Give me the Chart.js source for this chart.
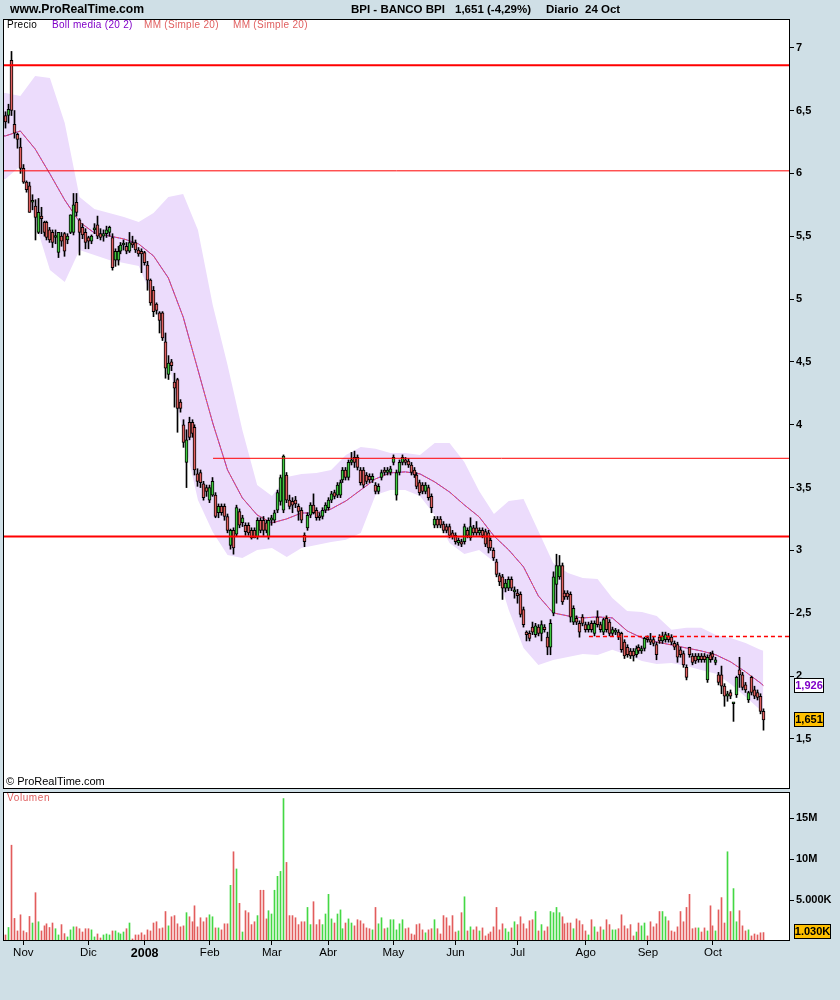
<!DOCTYPE html>
<html>
<head>
<meta charset="utf-8">
<title>BPI - BANCO BPI</title>
<script src="https://cdn.jsdelivr.net/npm/chart.js@4.4.1/dist/chart.umd.min.js"></script>
<style>
  html, body { margin: 0; padding: 0; }
  body { width: 840px; height: 1000px; background: #cfdfe6; position: relative; overflow: hidden;
         font-family: "Liberation Sans", Arial, sans-serif; }
  canvas { position: absolute; left: 0; }
  #mainChart { top: 0; }
  #volChart { top: 790px; }
  .txt { position: absolute; white-space: nowrap; line-height: 1; }
  .b { font-weight: bold; }
</style>
</head>
<body>
<canvas id="mainChart" width="840" height="790"></canvas>
<canvas id="volChart" width="840" height="210"></canvas>

<div class="txt b" style="left:10px;top:3px;font-size:12.2px;">www.ProRealTime.com</div>
<div class="txt b" style="left:351px;top:4px;font-size:11.5px;">BPI - BANCO BPI</div>
<div class="txt b" style="left:455px;top:4px;font-size:11.5px;">1,651 (-4,29%)</div>
<div class="txt b" style="left:546px;top:4px;font-size:11.5px;">Diario&nbsp; 24 Oct</div>

<div class="txt" style="left:7px;top:20px;font-size:10px;letter-spacing:0.3px;color:#000;">Precio</div>
<div class="txt" style="left:52px;top:20px;font-size:10px;letter-spacing:0.3px;color:#8000c8;">Boll media (20 2)</div>
<div class="txt" style="left:144px;top:20px;font-size:10px;letter-spacing:0.3px;color:#e06060;">MM (Simple 20)</div>
<div class="txt" style="left:233px;top:20px;font-size:10px;letter-spacing:0.3px;color:#e06060;">MM (Simple 20)</div>
<div class="txt" style="left:6px;top:776px;font-size:11px;">&copy; ProRealTime.com</div>
<div class="txt" style="left:7px;top:793px;font-size:10px;letter-spacing:0.6px;color:#e06060;">Volumen</div>

<script>
// daily candles, 24 Oct 2007 .. 24 Oct 2008 (index = trading day)
const opens = [
  6.46,6.46,6.90,6.39,6.31,6.21,6.04,5.93,5.90,5.77,
  5.74,5.53,5.66,5.61,5.61,5.55,5.53,5.49,5.37,5.50,
  5.52,5.47,5.53,5.53,5.77,5.63,5.57,5.53,5.49,5.46,
  5.55,5.59,5.52,5.50,5.52,5.53,5.49,5.31,5.31,5.38,
  5.43,5.42,5.38,5.45,5.45,5.39,5.38,5.37,5.27,5.15,
  5.07,4.96,4.89,4.89,4.66,4.40,4.50,4.34,4.36,4.18,
  4.00,3.70,4.02,4.02,3.98,3.61,3.62,3.53,3.50,3.40,
  3.44,3.44,3.30,3.35,3.35,3.27,3.04,3.16,3.13,3.31,
  3.22,3.20,3.20,3.16,3.16,3.11,3.24,3.24,3.22,3.11,
  3.24,3.24,3.32,3.39,3.32,3.60,3.40,3.39,3.40,3.35,
  3.32,3.12,3.18,3.28,3.36,3.32,3.27,3.27,3.32,3.34,
  3.40,3.46,3.44,3.44,3.56,3.64,3.58,3.70,3.74,3.74,
  3.64,3.64,3.60,3.59,3.56,3.52,3.47,3.58,3.64,3.62,
  3.62,3.70,3.44,3.62,3.70,3.72,3.71,3.68,3.64,3.60,
  3.54,3.52,3.47,3.50,3.43,3.20,3.25,3.25,3.21,3.19,
  3.19,3.14,3.12,3.06,3.07,3.07,3.16,3.10,3.18,3.18,
  3.14,3.16,3.15,3.14,3.08,3.00,2.91,2.80,2.79,2.70,
  2.70,2.77,2.67,2.66,2.65,2.53,2.35,2.34,2.39,2.33,
  2.39,2.34,2.39,2.31,2.23,2.50,2.73,2.79,2.88,2.66,
  2.66,2.65,2.43,2.46,2.42,2.47,2.41,2.37,2.42,2.34,
  2.47,2.41,2.35,2.46,2.43,2.34,2.35,2.35,2.34,2.27,
  2.23,2.20,2.20,2.17,2.23,2.20,2.22,2.30,2.29,2.29,
  2.25,2.31,2.28,2.29,2.32,2.31,2.26,2.25,2.21,2.18,
  2.07,2.23,2.16,2.16,2.13,2.16,2.16,1.97,2.17,2.18,
  2.11,2.01,2.01,1.92,1.84,1.87,1.78,1.85,2.05,2.01,
  1.93,1.81,1.99,1.89,1.87,1.84,1.72
];
const highs = [
  6.49,6.55,6.97,6.50,6.32,6.28,6.07,5.94,5.93,5.83,
  5.79,5.80,5.73,5.62,5.62,5.57,5.55,5.55,5.53,5.53,
  5.53,5.52,5.67,5.84,5.84,5.64,5.60,5.56,5.50,5.51,
  5.60,5.66,5.56,5.55,5.58,5.58,5.52,5.40,5.42,5.45,
  5.47,5.45,5.53,5.50,5.47,5.41,5.40,5.38,5.30,5.16,
  5.10,4.97,4.90,4.90,4.73,4.55,4.52,4.41,4.37,4.20,
  4.04,3.96,4.06,4.04,4.00,3.65,3.64,3.55,3.52,3.52,
  3.58,3.46,3.37,3.37,3.37,3.29,3.17,3.18,3.36,3.33,
  3.28,3.22,3.22,3.18,3.18,3.26,3.26,3.27,3.24,3.26,
  3.28,3.32,3.48,3.60,3.76,3.62,3.44,3.42,3.43,3.37,
  3.34,3.14,3.30,3.38,3.45,3.34,3.30,3.34,3.38,3.42,
  3.47,3.48,3.54,3.56,3.66,3.66,3.72,3.78,3.79,3.76,
  3.66,3.66,3.62,3.61,3.61,3.54,3.53,3.64,3.66,3.66,
  3.67,3.76,3.64,3.72,3.76,3.74,3.73,3.70,3.66,3.62,
  3.56,3.54,3.54,3.52,3.45,3.27,3.27,3.27,3.23,3.21,
  3.21,3.16,3.14,3.10,3.09,3.21,3.18,3.26,3.20,3.23,
  3.18,3.18,3.17,3.16,3.10,3.02,2.93,2.82,2.81,2.77,
  2.79,2.79,2.71,2.69,2.67,2.55,2.36,2.36,2.43,2.42,
  2.41,2.44,2.41,2.35,2.45,2.83,2.97,2.96,2.90,2.68,
  2.68,2.67,2.56,2.48,2.44,2.49,2.43,2.43,2.44,2.44,
  2.52,2.43,2.46,2.48,2.45,2.39,2.38,2.37,2.35,2.29,
  2.25,2.22,2.22,2.24,2.25,2.24,2.31,2.32,2.34,2.31,
  2.27,2.33,2.35,2.35,2.34,2.33,2.28,2.27,2.23,2.20,
  2.09,2.23,2.18,2.18,2.18,2.18,2.18,2.17,2.19,2.20,
  2.15,2.03,2.08,1.94,1.88,1.89,1.79,2.00,2.15,2.03,
  1.95,1.88,2.00,1.92,1.89,1.86,1.74
];
const lows = [
  6.36,6.40,6.46,6.28,6.20,6.00,5.92,5.85,5.69,5.71,
  5.47,5.52,5.52,5.50,5.47,5.45,5.41,5.44,5.33,5.42,
  5.34,5.44,5.52,5.51,5.66,5.35,5.48,5.40,5.40,5.44,
  5.52,5.48,5.47,5.46,5.49,5.50,5.23,5.26,5.27,5.36,
  5.39,5.36,5.37,5.41,5.37,5.34,5.21,5.27,5.07,4.95,
  4.86,4.88,4.73,4.67,4.37,4.36,4.43,4.14,3.94,4.10,
  3.82,3.50,3.88,3.90,3.60,3.51,3.50,3.40,3.43,3.38,
  3.43,3.26,3.26,3.28,3.24,3.14,3.01,2.97,3.11,3.18,
  3.19,3.12,3.12,3.09,3.10,3.09,3.14,3.12,3.14,3.09,
  3.20,3.22,3.30,3.36,3.30,3.38,3.33,3.30,3.34,3.24,
  3.22,3.03,3.16,3.26,3.29,3.24,3.24,3.25,3.30,3.32,
  3.38,3.41,3.42,3.42,3.54,3.56,3.56,3.68,3.66,3.64,
  3.52,3.50,3.53,3.54,3.54,3.45,3.45,3.56,3.60,3.60,
  3.60,3.68,3.40,3.60,3.68,3.68,3.66,3.60,3.58,3.49,
  3.44,3.45,3.45,3.40,3.30,3.18,3.18,3.18,3.14,3.14,
  3.10,3.09,3.05,3.04,3.03,3.05,3.10,3.08,3.12,3.12,
  3.12,3.10,3.03,2.98,3.00,2.92,2.79,2.72,2.61,2.67,
  2.68,2.68,2.62,2.58,2.47,2.39,2.28,2.28,2.33,2.31,
  2.32,2.28,2.35,2.17,2.17,2.48,2.58,2.77,2.57,2.61,
  2.61,2.43,2.41,2.41,2.31,2.40,2.35,2.35,2.35,2.32,
  2.39,2.35,2.33,2.35,2.32,2.32,2.33,2.29,2.19,2.14,
  2.15,2.14,2.12,2.15,2.18,2.18,2.20,2.27,2.25,2.24,
  2.13,2.26,2.26,2.27,2.27,2.25,2.21,2.11,2.15,2.07,
  1.97,2.15,2.09,2.10,2.11,2.11,2.11,1.95,2.11,2.13,
  2.09,1.93,1.86,1.76,1.80,1.82,1.64,1.83,1.91,1.89,
  1.87,1.79,1.85,1.82,1.81,1.70,1.57
];
const closes = [
  6.41,6.51,6.50,6.32,6.27,6.04,5.93,5.87,5.69,5.77,
  5.65,5.69,5.64,5.53,5.49,5.47,5.45,5.50,5.53,5.46,
  5.38,5.50,5.67,5.75,5.69,5.53,5.51,5.45,5.46,5.50,
  5.55,5.50,5.49,5.52,5.55,5.57,5.25,5.38,5.38,5.43,
  5.43,5.38,5.45,5.43,5.39,5.36,5.36,5.29,5.15,4.97,
  4.90,4.91,4.83,4.69,4.45,4.49,4.47,4.29,4.13,4.13,
  3.86,3.88,3.90,3.93,3.64,3.55,3.54,3.42,3.47,3.50,
  3.55,3.27,3.35,3.30,3.27,3.16,3.16,3.02,3.34,3.20,
  3.26,3.15,3.14,3.10,3.10,3.24,3.16,3.16,3.16,3.24,
  3.26,3.30,3.46,3.58,3.75,3.40,3.35,3.36,3.37,3.31,
  3.24,3.07,3.28,3.36,3.30,3.26,3.26,3.32,3.36,3.40,
  3.45,3.43,3.52,3.54,3.64,3.58,3.70,3.72,3.70,3.66,
  3.54,3.52,3.55,3.56,3.59,3.47,3.51,3.62,3.62,3.64,
  3.65,3.74,3.62,3.70,3.74,3.70,3.68,3.62,3.60,3.51,
  3.46,3.47,3.52,3.42,3.34,3.25,3.20,3.20,3.16,3.16,
  3.12,3.11,3.07,3.08,3.05,3.19,3.12,3.19,3.14,3.14,
  3.16,3.12,3.05,3.02,3.02,2.94,2.81,2.75,2.70,2.74,
  2.77,2.70,2.67,2.64,2.49,2.41,2.33,2.30,2.35,2.40,
  2.34,2.41,2.37,2.23,2.42,2.79,2.88,2.88,2.59,2.63,
  2.63,2.47,2.54,2.43,2.35,2.42,2.37,2.41,2.37,2.42,
  2.41,2.37,2.45,2.37,2.34,2.37,2.36,2.31,2.21,2.16,
  2.17,2.16,2.16,2.22,2.20,2.22,2.30,2.29,2.27,2.26,
  2.17,2.28,2.32,2.33,2.29,2.27,2.23,2.15,2.17,2.09,
  1.99,2.17,2.11,2.12,2.16,2.13,2.13,2.15,2.13,2.15,
  2.13,1.95,1.92,1.84,1.86,1.84,1.78,1.99,2.01,1.91,
  1.89,1.87,1.87,1.84,1.83,1.72,1.651
];
// volume in millions of shares
const volumes = [
  0.74,1.65,11.7,2.76,1.23,3.2,1.23,1.03,3.0,2.2,
  5.9,2.35,1.23,1.85,2.1,1.65,2.2,1.5,0.74,2.0,
  0.9,0.5,1.36,1.73,1.73,1.5,1.1,1.5,1.5,1.36,
  0.5,0.86,0.37,0.74,0.86,0.74,1.23,1.23,1.0,0.86,
  1.1,1.5,2.2,0.25,0.74,0.74,1.0,0.74,1.36,1.23,
  2.2,2.35,1.5,1.6,3.6,1.85,2.96,3.1,2.1,1.73,
  1.85,3.46,2.96,2.35,4.3,1.73,2.84,2.35,2.84,3.2,
  2.96,1.6,1.6,1.36,2.1,2.1,6.8,10.9,8.8,4.6,
  1.1,3.7,3.46,2.0,2.35,3.1,6.2,6.2,2.7,3.7,
  3.3,6.2,7.9,8.5,17.4,9.6,3.1,3.1,2.84,2.0,
  2.35,2.35,4.1,2.0,4.8,2.0,2.6,2.0,3.3,5.7,
  2.7,2.2,3.3,3.8,1.5,2.2,2.7,2.2,1.85,2.6,
  2.47,2.1,1.6,1.5,1.36,4.1,2.1,2.84,1.5,1.6,
  2.6,2.6,1.36,2.1,2.6,1.5,1.6,0.86,0.74,2.0,
  2.1,1.36,1.0,1.36,1.5,2.6,1.5,0.86,3.1,2.84,
  1.85,3.1,1.1,1.23,3.46,5.4,1.23,1.73,1.36,1.73,
  1.23,1.6,0.62,0.86,1.1,1.73,4.1,1.36,2.1,1.5,
  1.1,1.6,2.35,2.0,2.96,2.1,1.5,2.47,2.6,3.6,
  1.23,2.0,1.23,1.73,3.6,3.46,4.1,3.46,2.96,2.1,
  2.2,2.2,1.5,2.7,2.47,2.0,1.23,0.74,2.6,1.73,
  1.1,1.73,1.36,2.6,2.0,1.36,1.36,1.5,3.2,1.85,
  1.5,2.0,0.62,1.1,2.2,1.85,2.2,0.62,2.35,1.73,
  2.1,3.6,3.6,2.96,2.47,1.23,1.1,1.73,3.6,2.35,
  4.1,5.7,1.5,1.6,1.6,1.1,1.6,1.23,4.3,1.85,
  1.23,3.8,5.3,2.2,10.9,3.6,6.4,2.35,3.7,1.85,
  1.23,1.36,0.62,0.86,0.74,1.0,1.03
];

// Bollinger (20,2) band and 20-day average, sampled every 5 sessions
const bandIdx = [-1,0,5,10,15,20,25,30,35,40,45,50,55,60,65,70,75,80,85,90,95,100,105,110,115,120,125,
  130,135,140,145,150,155,160,165,170,175,180,185,190,195,200,205,210,215,220,225,230,235,240,245,250,255,256];
const bandUpper = [6.640,6.640,6.616,6.775,6.759,6.401,5.812,5.717,5.685,5.653,5.613,5.685,5.812,5.836,5.550,
  4.953,4.476,3.959,3.521,3.434,3.585,3.609,3.617,3.640,3.760,3.823,3.808,3.776,3.776,3.760,3.855,3.855,
  3.704,3.473,3.290,3.394,3.410,3.155,2.901,2.821,2.781,2.773,2.622,2.519,2.511,2.479,2.368,2.384,2.384,
  2.328,2.304,2.264,2.209,2.201];
const bandLower = [5.956,5.956,6.059,5.613,5.232,5.136,5.391,5.351,5.311,5.287,5.263,4.993,4.524,3.919,3.402,
  3.147,2.964,2.940,3.004,3.020,2.948,3.020,3.044,3.068,3.084,3.139,3.442,3.481,3.481,3.434,3.282,3.060,
  2.972,3.004,2.909,2.527,2.224,2.089,2.129,2.153,2.177,2.169,2.209,2.169,2.121,2.097,2.105,2.081,2.049,
  2.018,1.938,1.835,1.731,1.715];
const maValues = [6.298,6.298,6.337,6.194,5.995,5.788,5.613,5.526,5.502,5.478,5.438,5.343,5.168,4.858,4.436,
  4.014,3.640,3.418,3.282,3.219,3.251,3.298,3.298,3.330,3.394,3.481,3.569,3.617,3.625,3.609,3.545,3.465,
  3.362,3.267,3.115,3.004,2.869,2.638,2.503,2.479,2.463,2.471,2.463,2.360,2.304,2.272,2.248,2.224,2.201,
  2.169,2.113,2.034,1.946,1.926];

// drawn support / resistance levels
const levelValues = [6.86, 6.02, 3.733, 3.11, 2.316];
const levelStart  = [null, null, 70.1, null, 197.1];

const monthIdx    = [6, 28, 47, 69, 90, 109, 131, 152, 173, 196, 217, 239];
const monthLabels = ['Nov','Dic','2008','Feb','Mar','Abr','May','Jun','Jul','Ago','Sep','Oct'];
const priceTicks  = [1.5, 2, 2.5, 3, 3.5, 4, 4.5, 5, 5.5, 6, 6.5, 7];
const volTicks    = [5, 10, 15];

const X_MIN = -0.858, X_MAX = 265.02;
const UP = '#40c840', DOWN = '#e06060';
const VUP = '#44d844', VDOWN = '#e25c5c';
const FONT = '"Liberation Sans", Arial, sans-serif';

function comma(v) { return String(v).replace('.', ','); }
function volText(v) {
  if (v >= 10) return v + 'M';
  const k = Math.round(v * 1000);
  return Math.floor(k / 1000) + '.' + String(k % 1000).padStart(3, '0') + 'K';
}
function noPad(s) { s.paddingTop = 0; s.paddingBottom = 0; s.paddingLeft = 0; s.paddingRight = 0; }

const panelBox = {
  id: 'panelBox',
  beforeDraw(chart) {
    const a = chart.chartArea, c = chart.ctx;
    c.save();
    c.fillStyle = '#fff';
    c.fillRect(a.left, a.top, a.right - a.left, a.bottom - a.top);
    c.restore();
  },
  afterDraw(chart) {
    const a = chart.chartArea, c = chart.ctx;
    c.save();
    c.strokeStyle = '#000';
    c.lineWidth = 1;
    c.strokeRect(a.left + 0.5, a.top + 0.5, a.right - a.left - 1, a.bottom - a.top - 1);
    c.restore();
  }
};

// snap bars to whole pixels so the thin candles stay crisp
const snapBars = {
  id: 'snapBars',
  afterDatasetsUpdate(chart) {
    chart.getSortedVisibleDatasetMetas().forEach(function(meta) {
      if (meta.type !== 'bar') return;
      meta.data.forEach(function(el) { el.x = Math.floor(el.x) + 0.5; });
    });
  }
};

// short month tick marks under the volume panel
const monthMarks = {
  id: 'monthMarks',
  afterDraw(chart) {
    const x = chart.scales.x, a = chart.chartArea, c = chart.ctx;
    c.save();
    c.strokeStyle = '#000';
    c.lineWidth = 1;
    c.beginPath();
    monthIdx.forEach(function(v) {
      const px = Math.floor(x.getPixelForValue(v)) + 0.5;
      c.moveTo(px, a.bottom);
      c.lineTo(px, a.bottom + 4);
    });
    c.stroke();
    c.restore();
  }
};

function valueBox(c, x, y, text, fill, color, w) {
  const top = Math.round(y - 7.5);
  c.save();
  c.fillStyle = fill;
  c.fillRect(x, top, w, 15);
  c.strokeStyle = '#000';
  c.lineWidth = 1;
  c.strokeRect(x + 0.5, top + 0.5, w - 1, 14);
  c.fillStyle = color;
  c.font = 'bold 11px ' + FONT;
  c.textAlign = 'center';
  c.textBaseline = 'middle';
  c.fillText(text, x + w / 2, top + 8);
  c.restore();
}

const priceBoxes = {
  id: 'priceBoxes',
  afterDraw(chart) {
    const y = chart.scales.y, c = chart.ctx;
    const ma = maValues[maValues.length - 1];
    const last = closes[closes.length - 1];
    valueBox(c, 794, y.getPixelForValue(ma), comma(ma.toFixed(3)), '#fff', '#8000c8', 30);
    valueBox(c, 794, y.getPixelForValue(last), comma(last.toFixed(3)), '#ffc000', '#000', 30);
  }
};

const volBox = {
  id: 'volBox',
  afterDraw(chart) {
    const y = chart.scales.y, c = chart.ctx;
    const v = volumes[volumes.length - 1];
    const py = Math.min(y.getPixelForValue(v), chart.chartArea.bottom - 10);
    valueBox(c, 794, py, volText(v), '#ffc000', '#000', 37);
  }
};

const candleColors = closes.map((c, i) => c >= opens[i] ? UP : DOWN);
const volColors = closes.map((c, i) => c >= opens[i] ? VUP : VDOWN);

const levelSets = levelValues.map((v, k) => ({
  type: 'line',
  data: [{ x: levelStart[k] === null ? X_MIN : levelStart[k], y: v }, { x: X_MAX, y: v }],
  borderColor: '#ff0000',
  borderWidth: (k === 0 || k === 3) ? 2 : (k === 4 ? 1.5 : 1),
  borderDash: k === 4 ? [4, 3] : [],
  pointRadius: 0,
  fill: false,
  order: 0
}));

new Chart(document.getElementById('mainChart').getContext('2d'), {
  type: 'bar',
  data: {
    datasets: [
      {
        type: 'line',
        data: bandIdx.map((x, k) => ({ x: x, y: bandUpper[k] })),
        borderWidth: 0, pointRadius: 0, fill: false, order: 10
      },
      {
        type: 'line',
        data: bandIdx.map((x, k) => ({ x: x, y: bandLower[k] })),
        borderWidth: 0, pointRadius: 0, fill: '-1',
        backgroundColor: '#ecdcfc', order: 10
      },
      {
        type: 'line',
        data: bandIdx.map((x, k) => ({ x: x, y: maValues[k] })),
        borderColor: '#8a2be2', borderWidth: 1, pointRadius: 0, fill: false, order: 6
      },
      {
        type: 'line',
        data: bandIdx.map((x, k) => ({ x: x, y: maValues[k] })),
        borderColor: '#e85a5a', borderWidth: 1, borderDash: [3, 1], pointRadius: 0, fill: false, order: 5
      },
      {
        type: 'bar',
        data: closes.map((c, i) => ({ x: i, y: [lows[i], highs[i]] })),
        backgroundColor: '#000',
        barThickness: 1,
        grouped: false,
        order: 2
      },
      {
        type: 'bar',
        data: closes.map((c, i) => ({ x: i, y: [Math.min(opens[i], c), Math.max(opens[i], c)] })),
        backgroundColor: candleColors,
        borderColor: '#000',
        borderWidth: 1,
        borderSkipped: false,
        barThickness: 3,
        minBarLength: 2,
        grouped: false,
        order: 1
      }
    ].concat(levelSets)
  },
  options: {
    responsive: false,
    animation: false,
    devicePixelRatio: 1,
    events: [],
    layout: { padding: { left: 3, right: 0, top: 19, bottom: 1 } },
    plugins: { legend: { display: false }, tooltip: { enabled: false } },
    scales: {
      x: { type: 'linear', min: X_MIN, max: X_MAX, offset: false, display: false },
      y: {
        position: 'right',
        min: 1.102,
        max: 7.228,
        afterFit: function(s) { s.width = 50; noPad(s); },
        afterBuildTicks: function(s) { s.ticks = priceTicks.map(v => ({ value: v })); },
        grid: { drawOnChartArea: false, drawTicks: true, tickLength: 4, color: '#000' },
        border: { display: false },
        ticks: {
          padding: 2,
          color: '#000',
          font: { family: FONT, size: 11, weight: 'bold' },
          callback: function(v) { return comma(v); }
        }
      }
    }
  },
  plugins: [panelBox, snapBars, priceBoxes]
});

new Chart(document.getElementById('volChart').getContext('2d'), {
  type: 'bar',
  data: {
    datasets: [{
      data: volumes.map((v, i) => ({ x: i, y: v })),
      backgroundColor: volColors,
      barThickness: 1,
      grouped: false
    }]
  },
  options: {
    responsive: false,
    animation: false,
    devicePixelRatio: 1,
    events: [],
    layout: { padding: { left: 3, right: 0, top: 2, bottom: 0 } },
    plugins: { legend: { display: false }, tooltip: { enabled: false } },
    scales: {
      x: {
        type: 'linear', min: X_MIN, max: X_MAX, offset: false,
        afterFit: function(s) { s.height = 59; noPad(s); },
        afterBuildTicks: function(s) { s.ticks = monthIdx.map(v => ({ value: v })); },
        grid: { drawOnChartArea: false, drawTicks: true, tickLength: 4, color: 'rgba(0,0,0,0)' },
        border: { display: false },
        ticks: {
          autoSkip: false, maxRotation: 0, padding: 1, color: '#000',
          font: function(ctx) {
            return (ctx.index === 2)
              ? { family: FONT, size: 12.5, weight: 'bold' }
              : { family: FONT, size: 11.5 };
          },
          callback: function(v) { return monthLabels[monthIdx.indexOf(v)]; }
        }
      },
      y: {
        position: 'right',
        min: 0,
        max: 18.2,
        afterFit: function(s) { s.width = 50; noPad(s); },
        afterBuildTicks: function(s) { s.ticks = volTicks.map(v => ({ value: v })); },
        grid: { drawOnChartArea: false, drawTicks: true, tickLength: 4, color: '#000' },
        border: { display: false },
        ticks: {
          padding: 2, color: '#000',
          font: { family: FONT, size: 11, weight: 'bold' },
          callback: function(v) { return volText(v); }
        }
      }
    }
  },
  plugins: [panelBox, snapBars, monthMarks, volBox]
});
</script>
</body>
</html>
